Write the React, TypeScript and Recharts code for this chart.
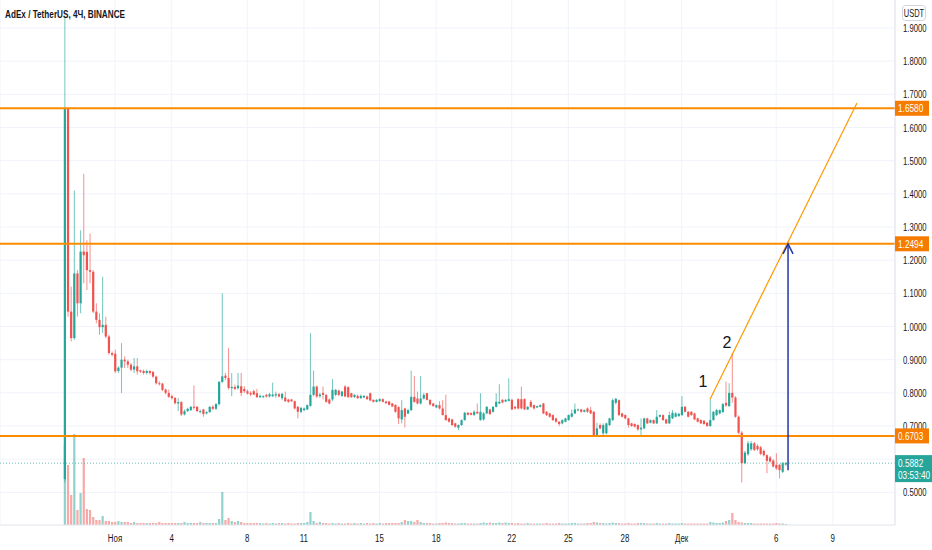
import React from 'react';
import { ComposedChart, Bar, XAxis, YAxis, CartesianGrid, ReferenceLine, ReferenceDot } from 'recharts';

const FONT = '"Liberation Sans", Arial, sans-serif';
const UP = '#26a69a';
const DOWN = '#ef5350';
const UP_VOL = 'rgba(38,166,154,0.5)';
const DOWN_VOL = 'rgba(239,83,80,0.5)';
const ORANGE = '#f57c00';
const ORANGE_LINE = '#fb8c00';
const TREND = '#ff9800';
const BLUE = '#2436a4';
const TEXT = '#131722';
const GRID = '#f0f3fa';

// 4h candles, index counted from 1 Nov 00:00 (day = index / 6)
const FIRST_INDEX = -16;

// [open, high, low, close]
const launchCandles = [
  [0.540, 1.930, 0.530, 1.658], [1.658, 1.662, 1.030, 1.045], [1.045, 1.120, 0.955, 0.965],
  [0.965, 1.410, 0.960, 1.160], [1.160, 1.170, 1.030, 1.070], [1.070, 1.290, 1.040, 1.226],
  [1.226, 1.460, 1.130, 1.215], [1.225, 1.260, 1.110, 1.170], [1.170, 1.280, 1.130, 1.165],
  [1.165, 1.170, 1.040, 1.045], [1.045, 1.070, 1.010, 1.020], [1.020, 1.040, 0.975, 0.998],
  [0.998, 1.150, 0.980, 1.005], [1.005, 1.030, 0.965, 0.970], [0.970, 0.975, 0.915, 0.920],
  [0.920, 0.925, 0.910, 0.915], [0.918, 0.930, 0.860, 0.865], [0.866, 0.880, 0.860, 0.876],
  [0.876, 0.950, 0.800, 0.900],
];

const earlyNovCandles = [
  [0.900, 0.910, 0.875, 0.895], [0.895, 0.900, 0.875, 0.885], [0.885, 0.890, 0.865, 0.870],
  [0.870, 0.905, 0.860, 0.880], [0.880, 0.905, 0.855, 0.865], [0.868, 0.870, 0.860, 0.864],
  [0.866, 0.870, 0.855, 0.860], [0.860, 0.870, 0.855, 0.866], [0.866, 0.868, 0.855, 0.860],
  [0.863, 0.866, 0.845, 0.849], [0.849, 0.852, 0.825, 0.829], [0.829, 0.835, 0.822, 0.826],
  [0.828, 0.830, 0.805, 0.809], [0.810, 0.813, 0.795, 0.800], [0.800, 0.810, 0.785, 0.788],
  [0.790, 0.795, 0.780, 0.784], [0.785, 0.787, 0.765, 0.769], [0.768, 0.784, 0.745, 0.772],
  [0.772, 0.775, 0.730, 0.735], [0.735, 0.750, 0.732, 0.745], [0.745, 0.755, 0.742, 0.752],
  [0.748, 0.760, 0.745, 0.758], [0.758, 0.822, 0.750, 0.755], [0.758, 0.760, 0.742, 0.745],
  [0.743, 0.750, 0.738, 0.745], [0.750, 0.752, 0.728, 0.736], [0.738, 0.745, 0.735, 0.742],
  [0.742, 0.760, 0.740, 0.758], [0.758, 0.763, 0.748, 0.752], [0.752, 0.770, 0.748, 0.766],
  [0.766, 0.836, 0.762, 0.833], [0.833, 1.100, 0.830, 0.850], [0.852, 0.860, 0.838, 0.845],
  [0.845, 0.935, 0.810, 0.815], [0.814, 0.860, 0.790, 0.818], [0.818, 0.825, 0.808, 0.812],
  [0.814, 0.860, 0.810, 0.822], [0.820, 0.860, 0.790, 0.800], [0.812, 0.820, 0.800, 0.805],
  [0.805, 0.810, 0.795, 0.798], [0.800, 0.805, 0.790, 0.795], [0.805, 0.810, 0.793, 0.795],
];

const midNovCandles = [
  [0.799, 0.812, 0.785, 0.787], [0.787, 0.795, 0.785, 0.791], [0.787, 0.793, 0.784, 0.790],
  [0.794, 0.797, 0.786, 0.789], [0.789, 0.800, 0.786, 0.796], [0.790, 0.831, 0.787, 0.795],
  [0.792, 0.804, 0.785, 0.796], [0.796, 0.800, 0.786, 0.789], [0.784, 0.800, 0.778, 0.797],
  [0.786, 0.804, 0.772, 0.775], [0.780, 0.782, 0.770, 0.773], [0.780, 0.782, 0.772, 0.775],
  [0.775, 0.777, 0.750, 0.753], [0.758, 0.760, 0.723, 0.743], [0.743, 0.757, 0.738, 0.755],
  [0.748, 0.756, 0.745, 0.753], [0.750, 0.765, 0.748, 0.763], [0.761, 0.980, 0.758, 0.794],
  [0.794, 0.867, 0.790, 0.819], [0.819, 0.822, 0.785, 0.789], [0.790, 0.800, 0.785, 0.795],
  [0.800, 0.819, 0.780, 0.794], [0.794, 0.796, 0.770, 0.773], [0.780, 0.783, 0.765, 0.768],
  [0.780, 0.841, 0.775, 0.809], [0.794, 0.812, 0.790, 0.809], [0.807, 0.810, 0.790, 0.794],
  [0.791, 0.806, 0.788, 0.804], [0.819, 0.823, 0.787, 0.789], [0.817, 0.820, 0.785, 0.787],
  [0.799, 0.800, 0.785, 0.787], [0.787, 0.796, 0.785, 0.794], [0.791, 0.795, 0.782, 0.784],
  [0.784, 0.795, 0.782, 0.791], [0.786, 0.793, 0.784, 0.791], [0.789, 0.792, 0.779, 0.781],
  [0.799, 0.801, 0.775, 0.777], [0.779, 0.780, 0.771, 0.773], [0.773, 0.781, 0.771, 0.779],
  [0.775, 0.784, 0.773, 0.781], [0.781, 0.783, 0.771, 0.773], [0.774, 0.776, 0.767, 0.769],
  [0.774, 0.776, 0.762, 0.764], [0.768, 0.770, 0.757, 0.759], [0.764, 0.765, 0.740, 0.743],
  [0.757, 0.760, 0.706, 0.723], [0.720, 0.778, 0.708, 0.748], [0.753, 0.755, 0.696, 0.728],
  [0.738, 0.752, 0.735, 0.748], [0.748, 0.867, 0.745, 0.788], [0.788, 0.851, 0.770, 0.773],
  [0.783, 0.804, 0.765, 0.768], [0.768, 0.851, 0.765, 0.783], [0.783, 0.800, 0.780, 0.794],
];

const lateNovCandles = [
  [0.799, 0.800, 0.777, 0.779], [0.779, 0.780, 0.762, 0.765], [0.768, 0.770, 0.758, 0.760],
  [0.756, 0.765, 0.754, 0.763], [0.763, 0.775, 0.750, 0.753], [0.753, 0.778, 0.732, 0.733],
  [0.733, 0.794, 0.716, 0.718], [0.723, 0.725, 0.710, 0.713], [0.720, 0.722, 0.700, 0.703],
  [0.708, 0.710, 0.695, 0.698], [0.695, 0.705, 0.688, 0.703], [0.703, 0.720, 0.700, 0.718],
  [0.718, 0.743, 0.716, 0.740], [0.740, 0.742, 0.732, 0.734], [0.739, 0.741, 0.732, 0.734],
  [0.733, 0.748, 0.731, 0.743], [0.743, 0.768, 0.736, 0.738], [0.718, 0.799, 0.716, 0.743],
  [0.720, 0.742, 0.716, 0.738], [0.738, 0.760, 0.736, 0.758], [0.750, 0.752, 0.734, 0.736],
  [0.743, 0.760, 0.740, 0.758], [0.758, 0.799, 0.756, 0.773], [0.768, 0.826, 0.766, 0.773],
  [0.779, 0.781, 0.769, 0.771], [0.774, 0.781, 0.772, 0.779], [0.776, 0.844, 0.774, 0.781],
  [0.779, 0.782, 0.748, 0.750], [0.758, 0.760, 0.750, 0.753], [0.781, 0.784, 0.750, 0.753],
  [0.781, 0.819, 0.750, 0.753], [0.781, 0.784, 0.748, 0.750], [0.750, 0.760, 0.748, 0.758],
  [0.773, 0.779, 0.755, 0.758], [0.763, 0.765, 0.750, 0.753], [0.756, 0.762, 0.754, 0.760],
  [0.758, 0.765, 0.756, 0.763], [0.768, 0.770, 0.736, 0.738], [0.743, 0.745, 0.730, 0.733],
  [0.738, 0.740, 0.725, 0.728], [0.733, 0.735, 0.715, 0.718], [0.723, 0.725, 0.710, 0.713],
  [0.713, 0.715, 0.700, 0.706], [0.708, 0.720, 0.705, 0.718], [0.713, 0.725, 0.711, 0.723],
  [0.718, 0.735, 0.716, 0.733], [0.728, 0.750, 0.726, 0.738], [0.738, 0.768, 0.736, 0.750],
  [0.748, 0.753, 0.745, 0.750], [0.750, 0.752, 0.740, 0.743], [0.743, 0.750, 0.741, 0.748],
];

const endNovCandles = [
  [0.753, 0.756, 0.740, 0.743], [0.748, 0.758, 0.736, 0.738], [0.743, 0.745, 0.668, 0.673],
  [0.673, 0.710, 0.670, 0.693], [0.703, 0.708, 0.690, 0.693], [0.678, 0.708, 0.670, 0.703],
  [0.678, 0.710, 0.675, 0.708], [0.703, 0.725, 0.700, 0.723], [0.718, 0.783, 0.715, 0.778],
  [0.770, 0.785, 0.765, 0.782], [0.778, 0.780, 0.730, 0.733], [0.738, 0.740, 0.726, 0.728],
  [0.733, 0.735, 0.720, 0.723], [0.723, 0.725, 0.695, 0.703], [0.708, 0.710, 0.698, 0.700],
  [0.706, 0.708, 0.696, 0.698], [0.703, 0.705, 0.686, 0.690], [0.690, 0.723, 0.668, 0.695],
  [0.693, 0.725, 0.690, 0.723], [0.723, 0.725, 0.706, 0.708], [0.710, 0.720, 0.708, 0.718],
  [0.718, 0.720, 0.706, 0.708], [0.708, 0.748, 0.706, 0.728], [0.728, 0.735, 0.726, 0.733],
  [0.733, 0.735, 0.716, 0.718], [0.720, 0.722, 0.706, 0.708], [0.708, 0.743, 0.706, 0.733],
  [0.723, 0.748, 0.721, 0.740], [0.728, 0.742, 0.726, 0.738], [0.730, 0.740, 0.728, 0.737],
  [0.733, 0.790, 0.731, 0.758], [0.758, 0.760, 0.741, 0.743], [0.743, 0.745, 0.726, 0.728],
  [0.743, 0.745, 0.731, 0.733], [0.738, 0.740, 0.718, 0.720], [0.723, 0.725, 0.711, 0.713],
  [0.718, 0.720, 0.706, 0.708], [0.716, 0.718, 0.704, 0.706], [0.710, 0.712, 0.698, 0.700],
];

const decCandles = [
  [0.700, 0.781, 0.698, 0.718], [0.718, 0.745, 0.716, 0.743], [0.733, 0.752, 0.730, 0.748],
  [0.738, 0.750, 0.735, 0.748], [0.742, 0.770, 0.740, 0.766], [0.770, 0.834, 0.758, 0.762],
  [0.760, 0.829, 0.758, 0.800], [0.800, 0.920, 0.770, 0.786], [0.786, 0.790, 0.725, 0.728],
  [0.728, 0.732, 0.675, 0.680], [0.680, 0.685, 0.530, 0.588], [0.588, 0.625, 0.585, 0.620],
  [0.615, 0.655, 0.610, 0.648], [0.630, 0.655, 0.625, 0.648], [0.648, 0.652, 0.624, 0.628],
  [0.640, 0.645, 0.625, 0.630], [0.636, 0.640, 0.612, 0.616], [0.625, 0.630, 0.608, 0.612],
  [0.612, 0.615, 0.558, 0.595], [0.605, 0.610, 0.590, 0.593], [0.596, 0.600, 0.575, 0.578],
  [0.583, 0.618, 0.568, 0.572], [0.583, 0.586, 0.542, 0.567], [0.562, 0.592, 0.558, 0.588],
  [0.584, 0.592, 0.580, 0.5882],
];

// volume, same order as the candles (relative units)
const launchVolumes = [80, 60, 30, 91, 15, 32, 67, 16, 15, 8, 5, 5, 9, 4, 4, 3, 3, 4, 3];
const earlyNovVolumes = [
  3, 3, 2, 3, 2, 2, 2, 2, 2, 2, 2, 3, 2, 2, 2, 2, 2, 2, 2, 3, 2, 2, 2, 2, 3, 2, 2, 2, 2, 2,
  6, 33, 5, 7, 4, 3, 4, 3, 2, 2, 2, 2,
];
const midNovVolumes = [
  2, 2, 1.5, 2, 1.5, 2, 1.5, 2, 2, 1.5, 2, 1.5, 1.5, 2, 2, 2, 3, 13, 4, 2,
  3, 2, 2, 1.5, 2, 1.5, 2, 1.5, 1.5, 2, 1.5, 2, 1.5, 2, 1.5, 2, 1.5, 2, 1.5, 2,
  1.5, 2, 2, 2, 2, 2, 3, 5, 4, 4, 3, 5, 3, 2,
];
const lateNovVolumes = [
  2, 2, 1.5, 1.5, 2, 2, 2.5, 2, 2, 1.5, 1.5, 2, 2, 1.5, 1.5, 1.5, 1.5, 2, 2.5, 2,
  2.5, 2, 2, 2.5, 2, 2.5, 2, 2, 1.5, 2, 1.5, 1.5, 2, 1.5, 1.5, 1.5, 1.5, 1.5, 2, 1.5,
  1.5, 1.5, 2, 1.5, 1.5, 1.5, 2, 2, 1.5, 1.5, 1.5,
];
const endNovVolumes = [
  2, 2, 3, 2.5, 2, 2, 1.5, 2, 2.5, 2, 2, 1.5, 1.5, 2, 1.5, 1.5, 2, 2, 2, 1.5,
  1.5, 1.5, 2, 1.5, 1.5, 1.5, 2, 1.5, 1.5, 1.5, 2, 1.5, 1.5, 1.5, 1.5, 1.5, 1.5, 1.5, 1.5,
];
const decVolumes = [3, 2.5, 2, 2, 2.5, 4, 5, 12, 5, 3, 2.5, 2, 2, 2, 1.5, 1.5, 1.5, 1.5, 1.5, 1.5, 1.5, 2, 1.5, 1.5, 1];

const dayTicks = [0, 3, 7, 10, 14, 17, 21, 24, 27, 30, 35, 38];
const dayLabels = ['Ноя', '4', '8', '11', '15', '18', '22', '25', '28', 'Дек', '6', '9'];
// grid levels of the price scale; 0.6000 sits under the last-price tag, so it gets no text
const priceTicks = [0.5, 0.6, 0.7, 0.8, 0.9, 1.0, 1.1, 1.2, 1.3, 1.4, 1.5, 1.6, 1.7, 1.8, 1.9];
const hiddenPriceLabels = [0.6];

const levels = [1.658, 1.2494, 0.6703];
const levelLabels = ['1.6580', '1.2494', '0.6703'];
const lastPrice = 0.5882;
const lastPriceLabel = '0.5882';
const countdown = '03:53:40';

const trendStart = { d: 31.5, p: 0.781 };
const trendEnd = { d: 39.28, p: 1.674 };
const arrowDay = 35.63;
const arrowFrom = 0.567;
const arrowTo = 1.2494;
const waveMarks = [
  { d: 31.13, p: 0.836, text: '1' },
  { d: 32.4, p: 0.953, text: '2' },
];

const X_DOMAIN = [-6.088, 41.292];
const Y_DOMAIN = [0.40166, 1.98441];
const VOL_DOMAIN = [0, 525];

// price-scale marks: plain ticks first, then the tags drawn over them
const axisMarks = [...priceTicks.filter((t) => !hiddenPriceLabels.includes(t)), lastPrice, ...levels];

const allCandles = [...launchCandles, ...earlyNovCandles, ...midNovCandles, ...lateNovCandles, ...endNovCandles, ...decCandles];
const allVolumes = [...launchVolumes, ...earlyNovVolumes, ...midNovVolumes, ...lateNovVolumes, ...endNovVolumes, ...decVolumes];

const rows = allCandles.map(([o, h, l, c], i) => ({
  d: (FIRST_INDEX + i) / 6,
  o, h, l, c,
  range: [l, h],
  vol: allVolumes[i] ?? 1.5,
  up: c >= o,
}));

const Candle = (props: any) => {
  let { x, y, width, height, payload } = props;
  if (x == null || payload == null) return null;
  if (height < 0) { y += height; height = -height; }
  const { o, h, l, c } = payload;
  const cx = x + width / 2;
  const ppu = h - l > 0 ? height / (h - l) : 0;
  const yO = y + (h - o) * ppu;
  const yC = y + (h - c) * ppu;
  const col = c >= o ? UP : DOWN;
  const top = Math.min(yO, yC);
  const bh = Math.max(Math.abs(yO - yC), 1);
  return (
    <g>
      <line x1={cx} x2={cx} y1={y} y2={y + height} stroke={col} strokeOpacity={0.65} strokeWidth={1} />
      <rect x={cx - 1.1} y={top} width={2.2} height={bh} fill={col} />
    </g>
  );
};

const VolBar = (props: any) => {
  let { x, y, width, height, payload } = props;
  if (x == null || payload == null) return null;
  if (height < 0) { y += height; height = -height; }
  const cx = x + width / 2;
  return <rect x={cx - 1.1} y={y} width={2.2} height={height} fill={payload.up ? UP_VOL : DOWN_VOL} />;
};

const PriceTick = (props: any) => {
  const { x, y, payload } = props;
  const v = Number(payload.value);
  const li = levels.indexOf(v);
  const bx = x - 8;
  if (li >= 0) {
    return (
      <g>
        <rect x={bx} y={y - 7.5} width={34} height={15} fill={ORANGE} />
        <text transform={`translate(${bx + 3},${y + 4}) scale(0.75,1)`} fontSize={11} fill="#ffffff" fontFamily={FONT}>
          {levelLabels[li]}
        </text>
      </g>
    );
  }
  if (v === lastPrice) {
    return (
      <g>
        <rect x={bx} y={y - 8} width={40} height={27} fill={UP} />
        <text transform={`translate(${bx + 3},${y + 4}) scale(0.75,1)`} fontSize={11} fill="#ffffff" fontFamily={FONT}>
          {lastPriceLabel}
        </text>
        <text transform={`translate(${bx + 3},${y + 16}) scale(0.75,1)`} fontSize={11} fill="#ffffff" fontFamily={FONT}>
          {countdown}
        </text>
      </g>
    );
  }
  return (
    <text transform={`translate(${x},${y + 4}) scale(0.7,1)`} fontSize={11} fill={TEXT} fontFamily={FONT}>
      {v.toFixed(4)}
    </text>
  );
};

const DateTick = (props: any) => {
  const { x, y, payload } = props;
  const idx = dayTicks.indexOf(payload.value);
  const label = idx >= 0 ? dayLabels[idx] : '';
  return (
    <text transform={`translate(${x},${y + 9}) scale(0.72,1)`} textAnchor="middle" fontSize={11} fill={TEXT} fontFamily={FONT}>
      {label}
    </text>
  );
};

const ArrowShape = (p: any) => {
  const { x1, y1, x2, y2 } = p;
  if (x1 == null) return null;
  return (
    <g>
      <line x1={x1} y1={y1} x2={x2} y2={y2} stroke={BLUE} strokeWidth={1.5} />
      <polyline points={`${x2 - 5},${y2 + 10} ${x2},${y2} ${x2 + 5},${y2 + 10}`} fill="none" stroke={BLUE} strokeWidth={1.5} />
    </g>
  );
};

export default function App() {
  return (
    <div style={{ position: 'absolute', left: 0, top: 0, width: 932, height: 550, background: '#ffffff', overflow: 'hidden' }}>
      <ComposedChart width={932} height={550} data={rows} margin={{ top: 0, right: 0, bottom: 0, left: 0 }}>
        <CartesianGrid stroke={GRID} strokeWidth={1} horizontalValues={priceTicks} />
        <XAxis
          dataKey="d" type="number" domain={X_DOMAIN} ticks={dayTicks} interval={0} allowDataOverflow
          height={25} tickLine={false} axisLine={{ stroke: '#e0e3eb' }} tick={<DateTick />}
        />
        <XAxis xAxisId="v" dataKey="d" type="number" domain={X_DOMAIN} allowDataOverflow hide />
        <YAxis
          orientation="right" type="number" domain={Y_DOMAIN} ticks={axisMarks} interval={0} allowDataOverflow
          width={37} tickLine={false} axisLine={{ stroke: '#e0e3eb' }} tick={<PriceTick />}
        />
        <YAxis yAxisId="v" type="number" domain={VOL_DOMAIN} allowDataOverflow hide />
        <Bar xAxisId="v" yAxisId="v" dataKey="vol" shape={<VolBar />} isAnimationActive={false} />
        <ReferenceLine y={lastPrice} stroke={UP} strokeOpacity={0.7} strokeDasharray="1 2" strokeWidth={1} />
        <Bar dataKey="range" shape={<Candle />} isAnimationActive={false} />
        {levels.map((lv) => (
          <ReferenceLine key={lv} y={lv} stroke={ORANGE_LINE} strokeWidth={2} />
        ))}
        <ReferenceLine
          segment={[{ x: trendStart.d, y: trendStart.p }, { x: trendEnd.d, y: trendEnd.p }]}
          stroke={TREND} strokeWidth={1.2} ifOverflow="visible"
        />
        <ReferenceLine
          segment={[{ x: arrowDay, y: arrowFrom }, { x: arrowDay, y: arrowTo }]}
          shape={ArrowShape} ifOverflow="visible"
        />
        {waveMarks.map((m) => (
          <ReferenceDot
            key={m.text} x={m.d} y={m.p} r={0} fill="none" stroke="none" ifOverflow="visible"
            label={{ value: m.text, position: 'center', fill: TEXT, fontSize: 16, fontFamily: FONT }}
          />
        ))}
      </ComposedChart>
      <svg width={932} height={550} style={{ position: 'absolute', left: 0, top: 0, pointerEvents: 'none' }}>
        <text x={5} y={18} fontSize={11} fontWeight="bold" fill={TEXT} fontFamily={FONT} textLength={120} lengthAdjust="spacingAndGlyphs">
          AdEx / TetherUS, 4Ч, BINANCE
        </text>
        <rect x={902.5} y={5.5} width={23} height={15} rx={3} fill="#ffffff" stroke="#d1d4dc" />
        <text transform="translate(914,16.5) scale(0.75,1)" textAnchor="middle" fontSize={10} fill={TEXT} fontFamily={FONT}>
          USDT
        </text>
      </svg>
    </div>
  );
}
